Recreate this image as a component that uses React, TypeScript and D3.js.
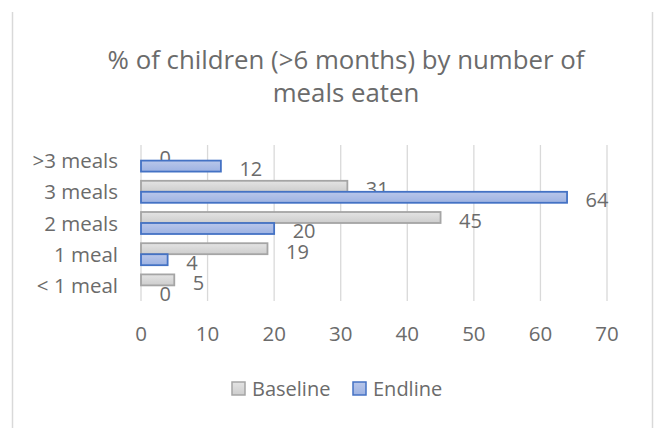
import React from "react";
import * as d3 from "d3";

const categories = [">3 meals", "3 meals", "2 meals", "1 meal", "< 1 meal"];
const baseline = [0, 31, 45, 19, 5];
const endline = [12, 64, 20, 4, 0];
const xTicks = [0, 10, 20, 30, 40, 50, 60, 70];
const seriesNames = ["Baseline", "Endline"];
const titleLines = ["% of children (>6 months) by number of", "meals eaten"];

const W = 657;
const H = 428;
const FONT = "'Open Sans', sans-serif";
const TXT = "#6b6b6b";

export default function App() {
  const x = d3.scaleLinear().domain([0, 70]).range([141, 607]);
  const p = 0.295;
  const y = d3
    .scaleBand<string>()
    .domain(categories)
    .range([145, 301])
    .paddingInner(p)
    .paddingOuter(p / 2);
  const inner = d3
    .scaleBand<string>()
    .domain(seriesNames)
    .range([0, y.bandwidth()]);
  const series = [
    { name: "Baseline", values: baseline, fill: "url(#gBase)", stroke: "#a5a5a5" },
    { name: "Endline", values: endline, fill: "url(#gEnd)", stroke: "#4472c4" },
  ];

  return (
    <svg
      width={W}
      height={H}
      style={{ position: "absolute", left: 0, top: 0, background: "#fff" }}
      fontFamily={FONT}
    >
      <defs>
        <linearGradient id="gBase" x1="0" y1="0" x2="0" y2="1">
          <stop offset="0" stopColor="#e4e4e4" />
          <stop offset="1" stopColor="#cdcdcd" />
        </linearGradient>
        <linearGradient id="gEnd" x1="0" y1="0" x2="0" y2="1">
          <stop offset="0" stopColor="#b9c7ea" />
          <stop offset="1" stopColor="#9db2e2" />
        </linearGradient>
      </defs>
      <rect x={0} y={0} width={W} height={H} fill="#fff" />
      <line x1={12.5} x2={12.5} y1={12} y2={H} stroke="#d9d9d9" strokeWidth={1.5} />
      <line x1={652.5} x2={652.5} y1={12} y2={H} stroke="#d9d9d9" strokeWidth={1.5} />

      {titleLines.map((t, i) => (
        <text
          key={t}
          x={346}
          y={69 + i * 33}
          textAnchor="middle"
          fontSize={25.8}
          fill={TXT}
        >
          {t}
        </text>
      ))}

      {xTicks.map((t) => (
        <g key={t}>
          <line
            x1={x(t)}
            x2={x(t)}
            y1={145}
            y2={301}
            stroke="#d9d9d9"
            strokeWidth={1.3}
          />
          <text
            x={x(t)}
            y={341}
            textAnchor="middle"
            fontSize={20.5}
            fill={TXT}
          >
            {t}
          </text>
        </g>
      ))}

      {categories.map((c) => (
        <text
          key={c}
          x={118}
          y={(y(c) as number) + y.bandwidth() / 2 + 7.5}
          textAnchor="end"
          fontSize={20.5}
          fill={TXT}
        >
          {c}
        </text>
      ))}

      {series.map((s) =>
        categories.map((c, i) => {
          const by = (y(c) as number) + (inner(s.name) as number);
          const bh = inner.bandwidth();
          const v = s.values[i];
          return (
            <g key={s.name + c}>
              {v > 0 && (
                <rect
                  x={x(0)}
                  y={by}
                  width={x(v) - x(0)}
                  height={bh}
                  fill={s.fill}
                  stroke={s.stroke}
                  strokeWidth={1.8}
                />
              )}
              <text
                x={x(v) + 18.5}
                y={by + bh / 2 + 10}
                fontSize={20}
                fill={TXT}
              >
                {v}
              </text>
            </g>
          );
        })
      )}

      {series.map((s, i) => {
        const lx = i === 0 ? 232 : 353;
        return (
          <g key={"leg" + s.name}>
            <rect
              x={lx}
              y={382}
              width={13}
              height={13}
              fill={s.fill}
              stroke={s.stroke}
              strokeWidth={1.5}
            />
            <text x={lx + 20} y={396} fontSize={20} fill={TXT}>
              {s.name}
            </text>
          </g>
        );
      })}
    </svg>
  );
}
